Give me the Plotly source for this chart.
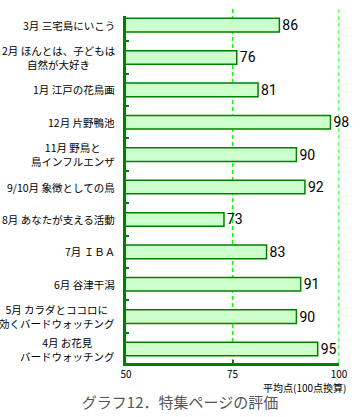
import plotly.graph_objects as go

categories = [
    "3月 三宅島にいこう",
    "2月 ほんとは、子どもは<br>自然が大好き",
    "1月 江戸の花鳥画",
    "12月 片野鴨池",
    "11月 野鳥と<br>鳥インフルエンザ",
    "9/10月 象徴としての鳥",
    "8月 あなたが支える活動",
    "7月 ＩＢＡ",
    "6月 谷津干潟",
    "5月 カラダとココロに<br>効くバードウォッチング",
    "4月 お花見<br>バードウォッチング",
]
scores = [86, 76, 81, 98, 90, 92, 73, 83, 91, 90, 95]
x_ticks = [50, 75, 100]
grid_ticks = [75, 100]
x_title = "平均点(100点換算)"
chart_title = "グラフ12．特集ページの評価"

FONT = "Noto Sans CJK JP"
NUMFONT = "Liberation Sans Narrow, Roboto, sans-serif"
DARK = "#008000"

fig = go.Figure(go.Bar(
    x=scores, y=categories, orientation="h", width=0.42,
    marker=dict(color="#CCFFCC", line=dict(color=DARK, width=1.5)),
    text=scores, textposition="outside", cliponaxis=False, constraintext="none",
    textfont=dict(family=NUMFONT, size=14, color="#000"),
    hoverinfo="skip",
))

annotations = [
    dict(x=0, xref="paper", y=c, yref="y", text=c, xanchor="right", xshift=-9,
         align="center", showarrow=False, font=dict(family=FONT, size=10.5, color="#000"))
    for c in categories
]
annotations.append(dict(x=1.04, xref="paper", y=0, yref="paper", yanchor="middle", yshift=-24,
                        xanchor="right", text=x_title, showarrow=False,
                        font=dict(family=FONT, size=10, color="#000")))

shapes = [
    dict(type="line", xref="x", yref="paper", x0=v, x1=v, y0=0, y1=1.023,
         line=dict(color="#00FF00", width=1.2, dash="4px,3px"), layer="below")
    for v in grid_ticks
]

fig.update_layout(
    width=360, height=417,
    margin=dict(l=126, r=14, t=16, b=54),
    plot_bgcolor="white", paper_bgcolor="white",
    showlegend=False,
    annotations=annotations,
    shapes=shapes,
    title=dict(text=chart_title, x=0.5, xref="container", xanchor="center",
               y=0.034, yref="container", yanchor="middle",
               font=dict(family=FONT, size=15, color="#555")),
    xaxis=dict(range=[50, 100], tickvals=x_ticks, ticks="inside", ticklen=3, tickwidth=2,
               tickcolor=DARK, showline=True, linewidth=2.5, linecolor=DARK,
               showgrid=False, zeroline=False,
               tickfont=dict(family=FONT, size=10, color="#000")),
    yaxis=dict(type="category", categoryorder="array", categoryarray=categories,
               range=[10.43, -0.28], showticklabels=False, tickson="boundaries",
               ticks="inside", ticklen=3, tickwidth=2, tickcolor=DARK,
               showline=True, linewidth=2.5, linecolor=DARK, showgrid=False),
)

fig.write_html("out.html", config={"displayModeBar": False},
               post_script="document.body.style.margin='0';document.body.style.overflow='hidden';")
